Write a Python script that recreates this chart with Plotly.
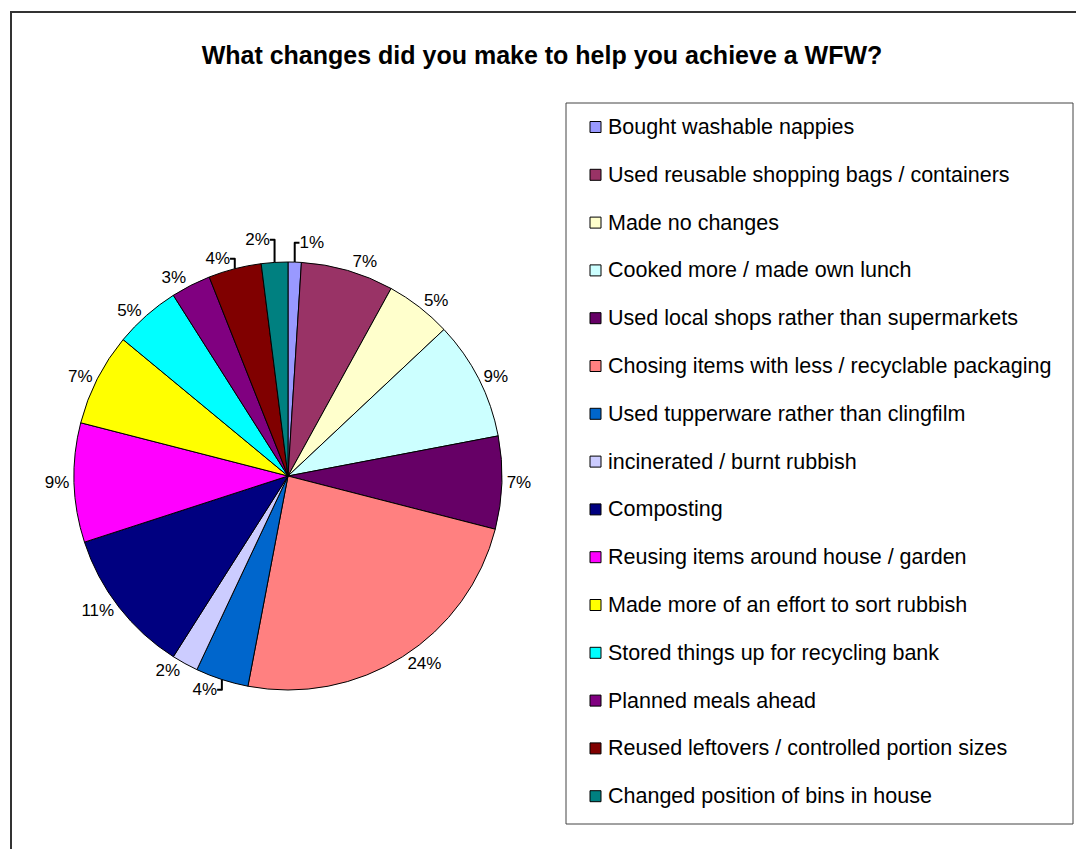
import plotly.graph_objects as go

categories = [
    "Bought washable nappies",
    "Used reusable shopping bags / containers",
    "Made no changes",
    "Cooked more / made own lunch",
    "Used local shops rather than supermarkets",
    "Chosing items with less / recyclable packaging",
    "Used tupperware rather than clingfilm",
    "incinerated / burnt rubbish",
    "Composting",
    "Reusing items around house / garden",
    "Made more of an effort to sort rubbish",
    "Stored things up for recycling bank",
    "Planned meals ahead",
    "Reused leftovers / controlled portion sizes",
    "Changed position of bins in house",
]
percent_values = [1, 7, 5, 9, 7, 24, 4, 2, 11, 9, 7, 5, 3, 4, 2]
colors = ["#9999FF", "#993366", "#FFFFCC", "#CCFFFF", "#660066", "#FF8080",
          "#0066CC", "#CCCCFF", "#000080", "#FF00FF", "#FFFF00", "#00FFFF",
          "#800080", "#800000", "#008080"]

OFF = 8  # page body margin
W, H = 1084 - 2 * OFF, 857 - 2 * OFF
FONT = "Liberation Sans, Arial, sans-serif"

def px(x):
    return (x - OFF) / W

def py(y):
    return 1 - (y - OFF) / H

fig = go.Figure()
cx, cy = 288, 476
half = 214
fig.add_trace(go.Pie(
    labels=categories,
    values=percent_values,
    sort=False,
    direction="clockwise",
    rotation=0,
    marker=dict(colors=colors, line=dict(color="black", width=1)),
    textposition="outside",
    texttemplate="%{percent:.0%}",
    textfont=dict(family=FONT, size=17, color="black"),
    showlegend=False,
    hoverinfo="label+percent",
    domain=dict(x=[px(cx - half), px(cx + half)], y=[py(cy + half), py(cy - half)]),
))

shapes = [
    dict(type="rect", xref="paper", yref="paper", x0=px(11), x1=px(1100), y0=py(12), y1=py(880),
         line=dict(color="#333333", width=2)),
    dict(type="rect", xref="paper", yref="paper", x0=px(566), x1=px(1073), y0=py(103), y1=py(824),
         line=dict(color="#444444", width=1)),
]
annotations = []
y0, dy = 127, 47.8
for i, (cat, col) in enumerate(zip(categories, colors)):
    yc = y0 + i * dy
    shapes.append(dict(type="rect", xref="paper", yref="paper",
                       x0=px(590), x1=px(601), y0=py(yc + 5.5), y1=py(yc - 5.5),
                       fillcolor=col, line=dict(color="black", width=1)))
    annotations.append(dict(xref="paper", yref="paper", x=px(606), y=py(yc), text=cat,
                            showarrow=False, xanchor="left", yanchor="middle",
                            font=dict(family=FONT, size=21.5, color="black")))

fig.update_layout(
    width=W, height=H,
    margin=dict(l=0, r=0, t=0, b=0),
    paper_bgcolor="white",
    plot_bgcolor="white",
    title=dict(text="<b>What changes did you make to help you achieve a WFW?</b>",
               x=px(542), xanchor="center", y=py(55), yanchor="middle",
               font=dict(family=FONT, size=25, color="black")),
    shapes=shapes,
    annotations=annotations,
)

fig.write_html("out.html")
